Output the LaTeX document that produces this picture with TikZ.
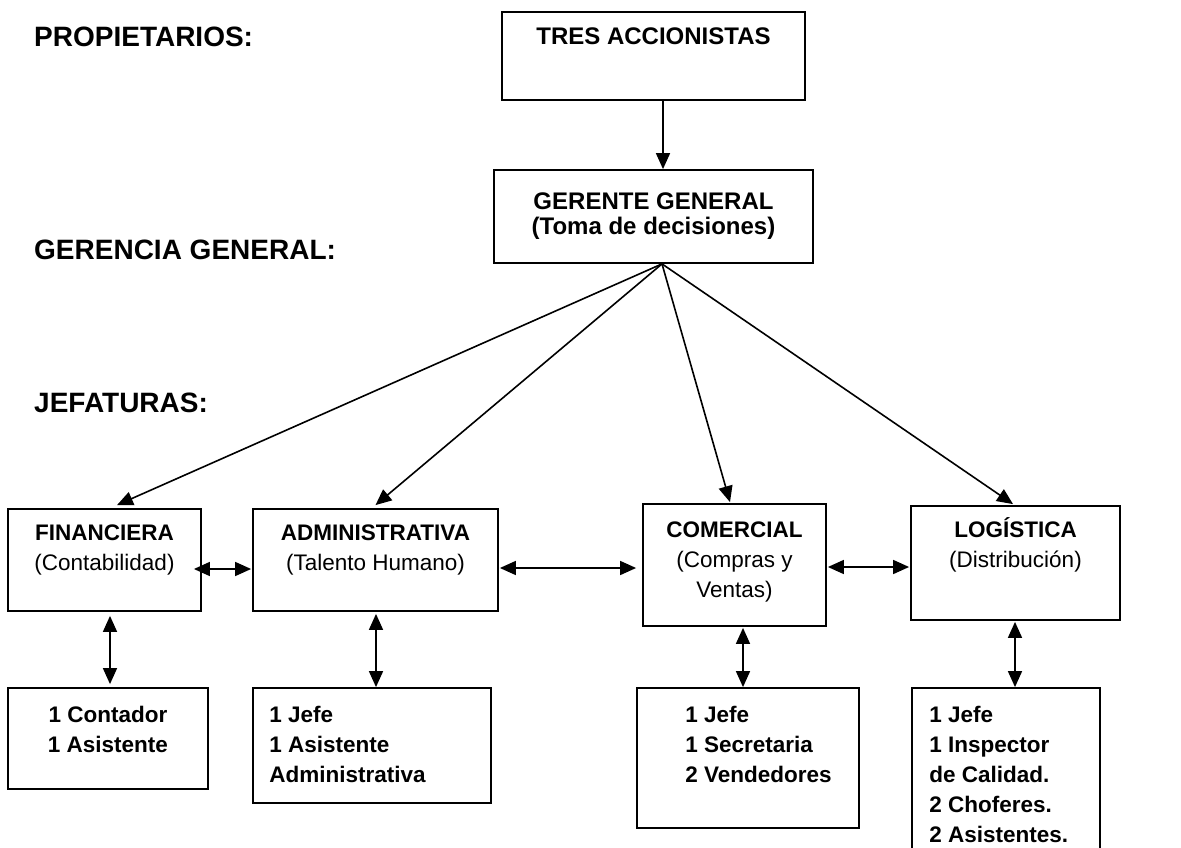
\documentclass[tikz,border=0pt]{standalone}
\usepackage{fontspec}
\setmainfont{Liberation Sans}
\usetikzlibrary{arrows.meta,positioning}

\tikzset{
  box/.style={draw, line width=1.8pt, inner sep=0pt},
  ttl/.style={inner sep=0pt, align=center, font=\fontsize{22.5}{30}\selectfont},
  sub/.style={ttl, font=\fontsize{22.5}{30}\bfseries\selectfont},
  lvl/.style={inner sep=0pt, anchor=north west, font=\fontsize{28}{32}\bfseries\selectfont},
  link/.style={line width=1.6pt, ->},
  both/.style={line width=1.6pt, <->}
}

\begin{document}
\begin{tikzpicture}[x=1pt, y=-1pt, >={Triangle[length=16pt,width=14pt]}]
\useasboundingbox (0,0) rectangle (1181,848);

% niveles
\node[lvl] (lprop) at (34,27)  {PROPIETARIOS:};
\node[lvl] (lger)  at (34,240) {GERENCIA GENERAL:};
\node[lvl] (ljef)  at (34,393) {JEFATURAS:};

% cajas
\node[box, minimum width=303pt, minimum height=88pt]  (tres)   at (653.5,56)    {};
\node[box, minimum width=319pt, minimum height=93pt]  (gg)     at (653.5,216.5) {};
\node[box, minimum width=193pt, minimum height=102pt] (fin)    at (104.5,560)   {};
\node[box, minimum width=245pt, minimum height=102pt] (adm)    at (375.5,560)   {};
\node[box, minimum width=183pt, minimum height=122pt] (com)    at (734.5,565)   {};
\node[box, minimum width=209pt, minimum height=114pt] (log)    at (1015.5,563)  {};
\node[box, minimum width=200pt, minimum height=101pt] (finsub) at (108,738.5)   {};
\node[box, minimum width=238pt, minimum height=115pt] (admsub) at (372,745.5)   {};
\node[box, minimum width=222pt, minimum height=140pt] (comsub) at (748,758)     {};
\node[box, minimum width=188pt, minimum height=170pt] (logsub) at (1006,773)    {};

% textos
\node[ttl, below=16pt of tres.north, font=\fontsize{24}{28}\bfseries\selectfont] (ttres) {TRES ACCIONISTAS};
\node[ttl, below=23pt of gg.north, font=\fontsize{24}{25}\bfseries\selectfont] (tgg) {GERENTE GENERAL\\(Toma de decisiones)};
\node[ttl, below=16pt of fin.north] (tfin) {\textbf{FINANCIERA}\\(Contabilidad)};
\node[ttl, below=16pt of adm.north] (tadm) {\textbf{ADMINISTRATIVA}\\(Talento Humano)};
\node[ttl, below=18pt of com.north] (tcom) {\textbf{COMERCIAL}\\(Compras y\\Ventas)};
\node[ttl, below=12pt of log.north] (tlog) {\textbf{LOGÍSTICA}\\(Distribución)};
\node[sub, below=19pt of finsub.north] (tfinsub) {1 Contador\\1 Asistente};
\node[sub, align=left, below right=19pt and 17pt of admsub.north west] (tadmsub) {1 Jefe\\1 Asistente\\Administrativa};
\node[sub, align=left, below right=19pt and 49pt of comsub.north west] (tcomsub) {1 Jefe\\1 Secretaria\\2 Vendedores};
\node[sub, align=left, below right=19pt and 18pt of logsub.north west] (tlogsub) {1 Jefe\\1 Inspector\\de Calidad.\\2 Choferes.\\2 Asistentes.};

% flechas
\coordinate (fan) at ([xshift=8.5pt]gg.south);
\draw[link] ([xshift=9.5pt]tres.south) -- ([xshift=9.5pt]gg.north);
\path[link] (fan) edge ([shift={(12.5pt,3pt)}]fin.north)
            (fan) edge ([yshift=3pt]adm.north)
            (fan) edge ([shift={(-4.5pt,1pt)}]com.north)
            (fan) edge ([shift={(-2.5pt,1pt)}]log.north);
\draw[both] ([shift={(-8pt,-9pt)}]fin.east) -- ([shift={(-1pt,-9pt)}]adm.west);
\draw[both] ([shift={(1pt,-8pt)}]adm.east) -- ([shift={(-6pt,-3pt)}]com.west);
\draw[both] ([shift={(1pt,-2pt)}]com.east) -- ([shift={(-1pt,-4pt)}]log.west);
\draw[both] ([shift={(5.5pt,-4pt)}]fin.south) -- ([shift={(2pt,3pt)}]finsub.north);
\draw[both] ([shift={(0.5pt,-2pt)}]adm.south) -- ([shift={(4pt,0pt)}]admsub.north);
\draw[both] ([shift={(8.5pt,-1pt)}]com.south) -- ([shift={(-5pt,0pt)}]comsub.north);
\draw[both] ([shift={(-0.5pt,-1pt)}]log.south) -- ([shift={(9pt,0pt)}]logsub.north);
\end{tikzpicture}
\end{document}
